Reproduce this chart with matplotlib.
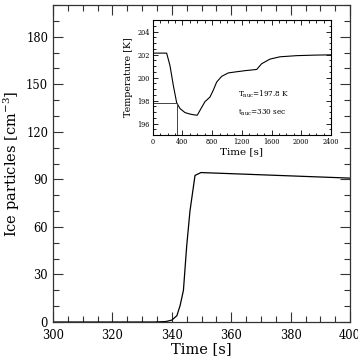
import matplotlib
matplotlib.use("Agg")
import matplotlib.pyplot as plt
from matplotlib.ticker import MultipleLocator

plt.rcParams['font.family'] = ['DejaVu Serif']
plt.rcParams['mathtext.fontset'] = 'dejavuserif'

# Main panel: ice particles vs time
time_main = [300, 334, 338, 340, 341.7, 342.8, 343.9, 345.0, 346.1, 347.8, 349.8, 360, 380, 400]
ice = [0, 0, 0.3, 1.2, 4, 10.5, 20, 48, 70, 92.5, 94.3, 93.6, 92.2, 90.8]

# Inset: temperature vs time
time_inset = [0, 100, 188, 233, 278, 323, 368, 435, 502, 560, 600, 659, 704, 771, 816,
              861, 928, 1018, 1130, 1250, 1400, 1467, 1579, 1713, 1938, 2200, 2400]
temp = [202.12, 202.12, 202.12, 201.03, 199.3, 197.8, 197.3, 196.95, 196.82, 196.75, 196.72,
        197.4, 197.9, 198.3, 198.9, 199.6, 200.1, 200.4, 200.5, 200.6, 200.7, 201.2, 201.6,
        201.8, 201.9, 201.95, 201.97]
t_nuc = 330
T_nuc = 197.8

fig = plt.figure(figsize=(3.58, 3.61), dpi=100)
ax = fig.add_axes([0.148, 0.108, 0.830, 0.878])
ax.plot(time_main, ice, color='black', lw=0.9)
ax.set_xlim(300, 400)
ax.set_ylim(0, 200)
ax.xaxis.set_major_locator(MultipleLocator(20))
ax.xaxis.set_minor_locator(MultipleLocator(5))
ax.yaxis.set_major_locator(MultipleLocator(30))
ax.yaxis.set_minor_locator(MultipleLocator(10))
ax.tick_params(which='both', direction='in', top=True, right=True, labelsize=8.3, width=0.8, color='#333333')
ax.tick_params(axis='x', which='both', pad=5)
ax.tick_params(which='major', length=7)
ax.tick_params(which='minor', length=4)
for s in ax.spines.values():
    s.set_linewidth(0.9)
    s.set_color('#333333')
ax.set_xlabel('Time [s]', fontsize=10.5, labelpad=0)
ax.set_ylabel('Ice particles [cm$^{-3}$]', fontsize=10.5, labelpad=3)

ins = fig.add_axes([0.4265, 0.626, 0.498, 0.3186])
ins.plot(time_inset, temp, color='black', lw=0.8)
ins.plot([0, t_nuc], [T_nuc, T_nuc], color='#444444', lw=0.7)
ins.plot([t_nuc, t_nuc], [195, T_nuc], color='#444444', lw=0.7)
ins.set_xlim(0, 2400)
ins.set_ylim(195, 205)
ins.xaxis.set_major_locator(MultipleLocator(400))
ins.xaxis.set_minor_locator(MultipleLocator(100))
ins.yaxis.set_major_locator(MultipleLocator(2))
ins.yaxis.set_minor_locator(MultipleLocator(0.5))
ins.tick_params(which='both', direction='in', top=True, right=True, labelsize=4.7, width=0.6, pad=2)
ins.tick_params(which='major', length=3.5)
ins.tick_params(which='minor', length=1.8)
for s in ins.spines.values():
    s.set_linewidth(0.8)
ins.set_xlabel('Time [s]', fontsize=7.5, labelpad=1)
ins.set_ylabel('Temperature [K]', fontsize=6.8, labelpad=3)
ins.text(1150, 198.5, r'T$_{\rm nuc}$=197.8 K', fontsize=5.2, va='center')
ins.text(1150, 196.9, r't$_{\rm nuc}$=330 sec', fontsize=5.2, va='center')

fig.savefig('out.png', dpi=100)
